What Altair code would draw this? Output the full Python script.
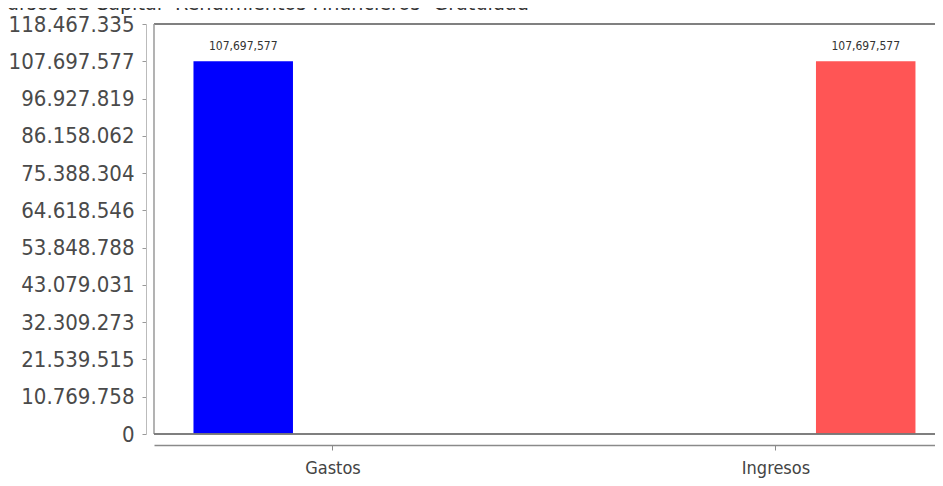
import altair as alt
import pandas as pd

categories = ["Gastos", "Ingresos"]
series = ["Gastos", "Ingresos"]
values = [107697577, 107697577]
colors = ["#0000FF", "#FF5555"]
y_ticks = [0, 10769758, 21539515, 32309273, 43079031, 53848788,
           64618546, 75388304, 86158062, 96927819, 107697577, 118467335]
y_max = 118467335
title_text = "Recursos de Capital- Rendimientos Financieros- Gratuidad"

df = pd.DataFrame({"categoria": categories, "serie": series, "valor": values})

W, H = 781, 410
FONT = "DejaVu Sans Condensed"

base = alt.Chart(df).encode(
    x=alt.X("categoria:N", sort=categories,
            scale=alt.Scale(paddingInner=0.3702, paddingOuter=0.0666, align=0.669),
            axis=alt.Axis(title=None, labelAngle=0, offset=11, tickSize=5,
                          labelFontSize=18, labelFont=FONT, labelColor="#444444",
                          labelPadding=9, domainColor="#8a8a8a", domainWidth=1.5,
                          tickColor="#8a8a8a", grid=False)),
    xOffset=alt.XOffset("serie:N", sort=series,
                        scale=alt.Scale(domain=series, paddingInner=0.4457, paddingOuter=0)),
    y=alt.Y("valor:Q",
            scale=alt.Scale(domain=[0, y_max], nice=False, zero=True),
            axis=alt.Axis(title=None, values=y_ticks, offset=8, tickSize=4,
                          labelExpr="replace(format(datum.value, ','), regexp(',', 'g'), '.')",
                          labelFontSize=22, labelFont=FONT, labelColor="#4a4a4a",
                          labelPadding=8, domainColor="#bbbbbb", tickColor="#999999",
                          grid=False, labelFlush=False, labelOverlap=False)),
)

bars = base.mark_bar().encode(
    color=alt.Color("serie:N", scale=alt.Scale(domain=series, range=colors), legend=None)
)

labels = base.mark_text(baseline="bottom", dy=-8, fontSize=12, font=FONT,
                        color="#333333").encode(
    text=alt.Text("valor:Q", format=",")
)

frame_top = alt.Chart(df).mark_rule(color="#808080", strokeWidth=2).encode(
    x=alt.value(0), x2=alt.value(W + 20), y=alt.value(0))
frame_left = alt.Chart(df).mark_rule(color="#999999", strokeWidth=1).encode(
    x=alt.value(0), y=alt.value(0), y2=alt.value(H))
frame_bottom = alt.Chart(df).mark_rule(color="#777777", strokeWidth=1.5).encode(
    x=alt.value(0), x2=alt.value(W + 20), y=alt.value(H))

chart = (bars + labels + frame_top + frame_left + frame_bottom).properties(
    width=W, height=H,
    autosize=alt.AutoSizeParams(type="none"),
    padding={"left": 146, "top": 16, "right": 0, "bottom": 44},
    title=alt.TitleParams(text=title_text, anchor="start", frame="group",
                          dx=-182, offset=-1, fontSize=19.2, font="DejaVu Sans",
                          fontWeight="normal", color="#333333"),
).configure_view(stroke=None)

chart.save("out.html", embed_options={"renderer": "svg", "actions": False})
